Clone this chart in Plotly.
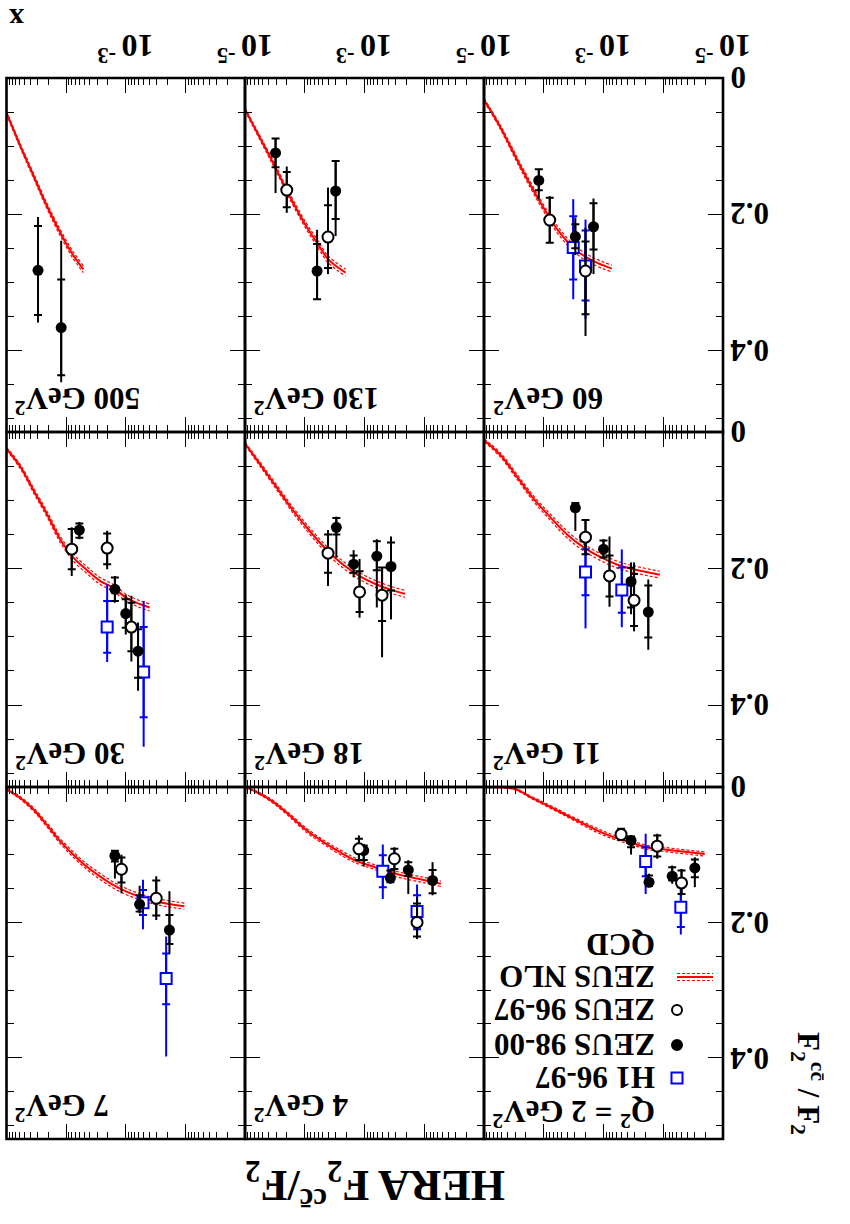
import numpy as np
import plotly.graph_objects as go

# ---------------- data ----------------
Q2 = [2, 4, 7, 11, 18, 30, 60, 130, 500]

NLO_X = [
    [0.1, 0.0316, 0.0167, 0.00879, 0.00464, 0.00245, 0.00129, 0.000681, 0.00036, 0.00019, 0.0001, 5.27e-5, 2.02e-5],
    [0.1, 0.064, 0.0337, 0.0178, 0.00938, 0.00494, 0.00261, 0.00138, 0.000726, 0.000383, 0.000202, 0.000107, 5.27e-5],
    [0.1, 0.0585, 0.035, 0.021, 0.0126, 0.00755, 0.00453, 0.00271, 0.00163, 0.000975, 0.000585, 0.00035, 0.00021, 0.000104],
    [0.1, 0.0527, 0.0278, 0.0147, 0.00774, 0.00408, 0.00215, 0.00114, 0.0006, 0.000316, 0.000114],
    [0.1, 0.0562, 0.0296, 0.0156, 0.00826, 0.00436, 0.0023, 0.00121, 0.00064, 0.000337, 0.00021],
    [0.1, 0.0585, 0.035, 0.021, 0.0126, 0.00755, 0.00453, 0.00271, 0.00163, 0.000975, 0.000585, 0.000398],
    [0.1, 0.0527, 0.0245, 0.01138, 0.0060, 0.00278, 0.00147, 0.000726],
    [0.1, 0.0562, 0.0337, 0.0178, 0.00938, 0.00622, 0.00408, 0.00207],
    [0.1, 0.0585, 0.035, 0.021, 0.0126, 0.00805, 0.00514],
]
NLO_Y = [
    [0.0, 0.0025, 0.0148, 0.027, 0.0395, 0.052, 0.064, 0.074, 0.0815, 0.089, 0.092, 0.095, 0.099],
    [0.0, 0.0074, 0.022, 0.042, 0.064, 0.081, 0.096, 0.109, 0.1175, 0.126, 0.132, 0.137, 0.143],
    [0.003, 0.0163, 0.0336, 0.056, 0.08, 0.1, 0.1175, 0.132, 0.1447, 0.1546, 0.162, 0.168, 0.172, 0.176],
    [0.012, 0.034, 0.066, 0.098, 0.125, 0.15, 0.169, 0.183, 0.194, 0.201, 0.209],
    [0.017, 0.047, 0.081, 0.115, 0.145, 0.172, 0.194, 0.211, 0.223, 0.232, 0.237],
    [0.0245, 0.051, 0.086, 0.12, 0.157, 0.184, 0.202, 0.218, 0.228, 0.243, 0.252, 0.257],
    [0.032, 0.073, 0.13, 0.183, 0.222, 0.254, 0.269, 0.28],
    [0.046, 0.088, 0.125, 0.174, 0.218, 0.242, 0.266, 0.286],
    [0.051, 0.1, 0.144, 0.188, 0.227, 0.257, 0.281],
]
NLO_ERR = [
    [0.001, 0.001, 0.0015, 0.002, 0.002, 0.0025, 0.003, 0.003, 0.003, 0.003, 0.003, 0.003, 0.003],
    [0.001, 0.0015, 0.002, 0.0025, 0.003, 0.003, 0.0035, 0.0035, 0.0035, 0.004, 0.004, 0.004, 0.004],
    [0.001, 0.002, 0.0025, 0.003, 0.0035, 0.004, 0.004, 0.0045, 0.0045, 0.0045, 0.0045, 0.0045, 0.0045, 0.0045],
    [0.002, 0.003, 0.0035, 0.004, 0.0045, 0.005, 0.005, 0.005, 0.005, 0.005, 0.005],
    [0.002, 0.003, 0.0035, 0.004, 0.0045, 0.005, 0.005, 0.005, 0.005, 0.005, 0.005],
    [0.002, 0.003, 0.0035, 0.004, 0.0045, 0.005, 0.005, 0.005, 0.005, 0.005, 0.005, 0.005],
    [0.002, 0.003, 0.004, 0.0045, 0.005, 0.005, 0.005, 0.005],
    [0.002, 0.003, 0.0035, 0.004, 0.0045, 0.005, 0.005, 0.005],
    [0.002, 0.003, 0.0035, 0.004, 0.0045, 0.005, 0.005],
]

# ZEUS 98-00 (filled circles)
Z98_X = [[3.46e-4, 1.73e-4, 7.08e-5, 2.96e-5], [1.03e-3, 3.69e-4, 1.85e-4, 7.26e-5], [1.52e-3, 5.85e-4, 1.85e-4],
         [2.96e-3, 1.0e-3, 3.46e-4, 1.78e-4], [2.96e-3, 1.52e-3, 6.22e-4, 3.60e-4], [6.0e-3, 1.52e-3, 1.0e-3, 6.22e-4],
         [0.0121, 2.96e-3, 1.47e-3], [0.0308, 6.22e-3, 3.04e-3], [0.0296, 0.0121]]
Z98_Y = [[0.079, 0.1407, 0.1318, 0.1195], [0.0938, 0.1343, 0.1225, 0.138], [0.1017, 0.1733, 0.2114],
         [0.111, 0.1716, 0.219, 0.2637], [0.1397, 0.1936, 0.1819, 0.197], [0.1436, 0.2304, 0.266, 0.321],
         [0.1505, 0.233, 0.2185], [0.11, 0.2835, 0.166], [0.2825, 0.3666]]
Z98_TOT_LO = [[0.0716, 0.128, 0.116, 0.1037], [0.084, 0.121, 0.108, 0.111], [0.093, 0.146, 0.154],
              [0.103, 0.157, 0.191, 0.216], [0.124, 0.173, 0.157, 0.153], [0.132, 0.211, 0.238, 0.279],
              [0.134, 0.205, 0.177], [0.088, 0.223, 0.121], [0.204, 0.239]]
Z98_TOT_HI = [[0.0998, 0.148, 0.143, 0.148], [0.1175, 0.143, 0.158, 0.160], [0.135, 0.187, 0.246],
              [0.145, 0.186, 0.267, 0.319], [0.184, 0.213, 0.257, 0.2745], [0.157, 0.25, 0.2966, 0.379],
              [0.178, 0.26, 0.288], [0.169, 0.325, 0.232], [0.359, 0.447]]
Z98_STAT_LO = [[0.0731, 0.1309, 0.1185, 0.1072], [0.0864, 0.1235, 0.111, 0.1225], [0.094, 0.160, 0.189],
               [0.104, 0.159, 0.199, 0.225], [0.126, 0.181, 0.160, 0.162], [0.134, 0.213, 0.245, 0.289],
               [0.134, 0.215, 0.184], [0.089, 0.244, 0.122], [0.2175, 0.296]]
Z98_STAT_HI = [[0.0889, 0.1457, 0.1383, 0.1333], [0.1077, 0.1407, 0.131, 0.157], [0.110, 0.184, 0.232],
               [0.115, 0.184, 0.257, 0.301], [0.150, 0.206, 0.2025, 0.232], [0.155, 0.2475, 0.2868, 0.36],
               [0.165, 0.25, 0.252], [0.131, 0.325, 0.207], [0.348, 0.4365]]

# ZEUS 96-97 (open circles)
Z97_X = [[5.08e-4, 1.26e-4, 4.94e-5], [1.24e-3, 3.16e-4, 1.32e-4], [1.18e-3, 3.08e-4], [2.0e-3, 7.94e-4, 3.08e-4],
         [4.08e-3, 1.21e-3, 5.08e-4], [8.05e-3, 2.05e-3, 8.05e-4], [7.94e-3, 2.0e-3], [0.02, 4.08e-3], []]
Z97_Y = [[0.0701, 0.0874, 0.1417], [0.0914, 0.106, 0.2], [0.1215, 0.1644], [0.154, 0.2108, 0.2466],
         [0.1775, 0.2343, 0.239], [0.1716, 0.170, 0.2858], [0.2087, 0.2835], [0.1647, 0.2336], []]
Z97_TOT_LO = [[0.0617, 0.069, 0.121], [0.0716, 0.089, 0.163], [0.1, 0.132], [0.129, 0.153, 0.191],
              [0.1436, 0.186, 0.1985], [0.1397, 0.1446, 0.24], [0.1735, 0.22], [0.13, 0.161], []]
Z97_TOT_HI = [[0.079, 0.106, 0.160], [0.1086, 0.128, 0.2247], [0.157, 0.1965], [0.179, 0.256, 0.292],
              [0.2255, 0.272, 0.33], [0.211, 0.201, 0.336], [0.242, 0.379], [0.198, 0.288], []]
Z97_STAT_LO = [[0.0617, 0.0716, 0.1235], [0.0765, 0.0914, 0.172], [0.104, 0.138], [0.129, 0.181, 0.208],
               [0.15, 0.204, 0.1985], [0.142, 0.1485, 0.25], [0.176, 0.24], [0.138, 0.187], []]
Z97_STAT_HI = [[0.078, 0.1027, 0.158], [0.1077, 0.121, 0.221], [0.141, 0.19], [0.179, 0.241, 0.284],
               [0.206, 0.2637, 0.277], [0.201, 0.1936, 0.321], [0.242, 0.347], [0.19, 0.279], []]

# H1 96-97 (open squares)
H1_X = [[1.97e-4, 5.08e-5], [4.94e-4, 1.32e-4], [5.14e-4, 2.1e-4], [2.0e-3, 4.94e-4], [],
        [2.05e-3, 5.01e-4], [3.21e-3, 2.0e-3], [], []]
H1_Y = [[0.110, 0.1778], [0.1244, 0.184], [0.171, 0.283], [0.205, 0.2314], [],
        [0.2858, 0.3515], [0.249, 0.276], [], []]
H1_TOT_LO = [[0.069, 0.138], [0.085, 0.144], [0.137, 0.221], [0.152, 0.172], [], [0.223, 0.2475], [0.178, 0.208], [], []]
H1_TOT_HI = [[0.158, 0.218], [0.1654, 0.222], [0.21, 0.398], [0.2877, 0.286], [], [0.3368, 0.461], [0.325, 0.354], [], []]
H1_STAT_LO = [[0.089, 0.148], [0.101, 0.16], [0.152, 0.246], [0.1716, 0.1985], [], [0.2475, 0.2858], [0.203, 0.224], [], []]
H1_STAT_HI = [[0.132, 0.207], [0.148, 0.21], [0.189, 0.321], [0.239, 0.2647], [], [0.3235, 0.418], [0.296, 0.327], [], []]

X_TICK_LABELS = [1e-5, 1e-3]
Y_TICK_LABELS = [0, 0.2, 0.4]

# ---------------- layout geometry / style ----------------
W, H = 850, 1224
COL_PX = [6.5, 245.0, 484.0, 723.0]
ROW_PX = [78.0, 432.0, 787.0, 1139.0]
FONT = "Liberation Serif"
RED, BLUE, BLACK = "#ff0000", "#0000ff", "#000000"

fig = go.Figure()
layout = dict(width=W, height=H, margin=dict(l=0, r=0, t=0, b=0),
              paper_bgcolor="white", plot_bgcolor="rgba(0,0,0,0)", showlegend=False,
              font=dict(family=FONT, color=BLACK))
annotations = []
shapes = []


def names(k):
    s = "" if k == 1 else str(k)
    return "x" + s, "y" + s, "xaxis" + s, "yaxis" + s


def add_series(xr, yr, x, y, tlo, thi, slo, shi, marker, color):
    if not x:
        return
    y = np.array(y)
    # statistical errors with small cross ticks
    fig.add_trace(go.Scatter(
        x=x, y=y, mode="markers", xaxis=xr, yaxis=yr, hoverinfo="skip",
        marker=dict(size=1, color="rgba(0,0,0,0)"),
        error_y=dict(type="data", symmetric=False, array=np.array(shi) - y, arrayminus=y - np.array(slo),
                     color=color, thickness=2, width=4)))
    # total errors + markers
    fig.add_trace(go.Scatter(
        x=x, y=y, mode="markers", xaxis=xr, yaxis=yr, marker=marker,
        error_y=dict(type="data", symmetric=False, array=np.array(thi) - y, arrayminus=y - np.array(tlo),
                     color=color, thickness=2, width=0)))


for i, q in enumerate(Q2):
    r, c = divmod(i, 3)
    icol, irow = 2 - c, 2 - r          # the whole page is shown turned by 180 degrees
    xr, yr, xk, yk = names(i + 1)
    common = dict(ticks="inside", tickcolor=BLACK, tickwidth=1.2, ticklen=15, showticklabels=False,
                  showline=True, linewidth=1, linecolor=BLACK, mirror="allticks",
                  showgrid=False, zeroline=False, fixedrange=True)
    layout[xk] = dict(type="log", range=[-1, -5], dtick=1,
                      domain=[COL_PX[icol] / W, COL_PX[icol + 1] / W], anchor=yr,
                      minor=dict(dtick="D1", ticks="inside", ticklen=7, tickwidth=1, tickcolor=BLACK, showgrid=False),
                      **common)
    layout[yk] = dict(range=[0.52, 0], tick0=0, dtick=0.2,
                      domain=[1 - ROW_PX[irow + 1] / H, 1 - ROW_PX[irow] / H], anchor=xr,
                      minor=dict(dtick=0.05, ticks="inside", ticklen=7, tickwidth=1, tickcolor=BLACK, showgrid=False),
                      **common)
    # panel frame of even thickness
    shapes.append(dict(type="rect", xref=xr + " domain", yref=yr + " domain", x0=0, x1=1, y0=0, y1=1,
                       line=dict(color=BLACK, width=2.6), layer="above"))

    # NLO QCD band and central curve
    yc = np.array(NLO_Y[i])
    e = np.array(NLO_ERR[i])
    for yy in (yc - e, yc + e):
        fig.add_trace(go.Scatter(x=NLO_X[i], y=yy, mode="lines", xaxis=xr, yaxis=yr, hoverinfo="skip",
                                 line=dict(color=RED, width=1.2, dash="3px,2px", shape="spline")))
    fig.add_trace(go.Scatter(x=NLO_X[i], y=yc, mode="lines", xaxis=xr, yaxis=yr,
                             line=dict(color=RED, width=2, shape="spline")))

    add_series(xr, yr, H1_X[i], H1_Y[i], H1_TOT_LO[i], H1_TOT_HI[i], H1_STAT_LO[i], H1_STAT_HI[i],
               dict(symbol="square", size=11, color="white", line=dict(color=BLUE, width=2)), BLUE)
    add_series(xr, yr, Z98_X[i], Z98_Y[i], Z98_TOT_LO[i], Z98_TOT_HI[i], Z98_STAT_LO[i], Z98_STAT_HI[i],
               dict(symbol="circle", size=11, color=BLACK, line=dict(color=BLACK, width=0)), BLACK)
    add_series(xr, yr, Z97_X[i], Z97_Y[i], Z97_TOT_LO[i], Z97_TOT_HI[i], Z97_STAT_LO[i], Z97_STAT_HI[i],
               dict(symbol="circle", size=11, color="white", line=dict(color=BLACK, width=2)), BLACK)

    # x tick labels (image top row)
    if irow == 0:
        for v in X_TICK_LABELS:
            exp = int(round(np.log10(v)))
            annotations.append(dict(xref=xr, x=np.log10(v), yref=yr + " domain", y=1, xanchor="center",
                                    yanchor="bottom", yshift=8, textangle=180, showarrow=False,
                                    text="<b>10<sup> %d</sup></b>" % exp, font=dict(size=32, family=FONT)))
    # y tick labels (image right column)
    if icol == 2:
        for v in Y_TICK_LABELS:
            annotations.append(dict(xref=xr + " domain", x=1, xanchor="left", xshift=5, yref=yr, y=v,
                                    yanchor="middle", textangle=180, showarrow=False,
                                    text="<b>%g</b>" % v, font=dict(size=31, family=FONT)))
    # panel label
    if i > 0:
        annotations.append(dict(xref=xr + " domain", x=0, xanchor="left", xshift=7, yref=yr + " domain", y=0,
                                yanchor="bottom", yshift=10, textangle=180, showarrow=False,
                                text="<b>%d GeV<sup>2</sup></b>" % q, font=dict(size=31, family=FONT)))

# legend inside the Q^2 = 2 panel (drawn by hand, turned like the rest)
LEG_TEXT = ["Q<sup>2</sup> = 2 GeV<sup>2</sup>", "H1 96-97", "ZEUS 98-00", "ZEUS 96-97", "ZEUS NLO", "QCD"]
LEG_YPX = [1114, 1078, 1045, 1010, 977, 945]
for t, ypx in zip(LEG_TEXT, LEG_YPX):
    annotations.append(dict(xref="paper", yref="paper", x=657 / W, y=1 - ypx / H, xanchor="right",
                            yanchor="middle", textangle=180, showarrow=False, text="<b>%s</b>" % t,
                            font=dict(size=31, family=FONT)))


def key_shape(kind, xpx, ypx, half, fill, line):
    return dict(type=kind, xref="paper", yref="paper", xsizemode="pixel", ysizemode="pixel",
                xanchor=xpx / W, yanchor=1 - ypx / H, x0=-half, x1=half, y0=-half, y1=half,
                fillcolor=fill, line=dict(color=line, width=2))


shapes.append(key_shape("rect", 677, 1078, 5.5, "white", BLUE))
shapes.append(key_shape("circle", 677, 1045, 5, BLACK, BLACK))
shapes.append(key_shape("circle", 677, 1010, 5, "white", BLACK))
for dy, dash, wdt in ((-3.5, "3px,2px", 1.2), (0, "solid", 2), (3.5, "3px,2px", 1.2)):
    shapes.append(dict(type="line", xref="paper", yref="paper", x0=677 / W, x1=713 / W,
                       y0=1 - (977 + dy) / H, y1=1 - (977 + dy) / H, line=dict(color=RED, width=wdt, dash=dash)))

# axis titles and page title
annotations.append(dict(xref="paper", yref="paper", x=16 / W, y=1 - 20 / H, xanchor="center", yanchor="middle",
                        textangle=180, showarrow=False, text="<b>x</b>", font=dict(size=30, family=FONT)))
annotations.append(dict(xref="paper", yref="paper", x=808 / W, y=1 - 1083 / H, xanchor="center", yanchor="middle",
                        textangle=90, showarrow=False,
                        text="<b>F<sub>2</sub><sup>cc\u0304</sup> / F<sub>2</sub></b>", font=dict(size=31, family=FONT)))
annotations.append(dict(xref="paper", yref="paper", x=375 / W, y=1 - 1185 / H, xanchor="center", yanchor="middle",
                        textangle=180, showarrow=False,
                        text="<b>HERA F<sub>2</sub><sup>cc\u0304</sup>/F<sub>2</sub></b>", font=dict(size=44, family=FONT)))

layout["annotations"] = annotations
layout["shapes"] = shapes
fig.update_layout(**layout)
fig.write_html("out.html")
